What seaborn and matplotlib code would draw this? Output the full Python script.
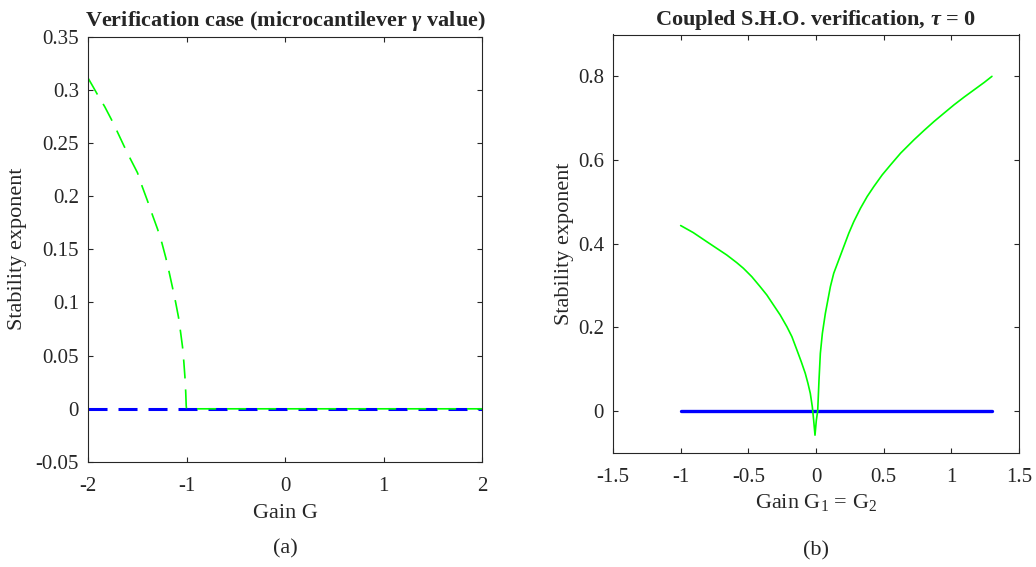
import numpy as np
import pandas as pd
import matplotlib
matplotlib.use("Agg")
import matplotlib.pyplot as plt
import seaborn as sns

# ---- data ----
# Panel (a): microcantilever verification
gain_a_green = [-2.0, -1.95, -1.905, -1.83, -1.7625, -1.70, -1.634, -1.57,
                -1.498, -1.45, -1.396, -1.345, -1.294, -1.25, -1.21, -1.175,
                -1.142, -1.11, -1.081, -1.06, -1.04, -1.027, -1.016, -1.008,
                -1.003, -1.0, 2.0]
stab_a_green = [0.311, 0.303, 0.2956, 0.284, 0.272, 0.260, 0.247, 0.235,
                0.222, 0.209, 0.1955, 0.182, 0.169, 0.156, 0.142, 0.128,
                0.114, 0.100, 0.086, 0.072, 0.058, 0.044, 0.030, 0.016,
                0.003, 0.0, 0.0]
gain_a_blue = [-2.0, 2.0]
stab_a_blue = [0.0, 0.0]

# Panel (b): coupled S.H.O. verification, tau = 0
gain_b_green = [-1.0, -0.9073, -0.8084, -0.7342, -0.6601, -0.5859, -0.5365,
                -0.4747, -0.4129, -0.3634, -0.3140, -0.2645, -0.2151, -0.1780,
                -0.1409, -0.1088, -0.0791, -0.0593, -0.0420, -0.0272, -0.0173,
                -0.0074, 0.0025, 0.0124, 0.0222, 0.0321, 0.0470, 0.0692,
                0.1063, 0.1310, 0.1681, 0.2052, 0.2423, 0.2794, 0.3288,
                0.3782, 0.4277, 0.4895, 0.5513, 0.6255, 0.7244, 0.7985,
                0.8727, 0.9468, 1.0210, 1.0952, 1.1693, 1.2435, 1.3]
stab_b_green = [0.4435, 0.4267, 0.4052, 0.3892, 0.3733, 0.3549, 0.3414,
                0.3214, 0.2975, 0.2776, 0.2536, 0.2297, 0.2018, 0.1779,
                0.1460, 0.1180, 0.0901, 0.0662, 0.0423, 0.0104, -0.0215,
                -0.0574, -0.0215, 0.0, 0.0742, 0.138, 0.1858, 0.2337,
                0.2975, 0.3294, 0.3613, 0.3932, 0.4251, 0.4530, 0.4849,
                0.5129, 0.5368, 0.5647, 0.5886, 0.6166, 0.6485, 0.6708,
                0.6923, 0.7123, 0.7322, 0.7506, 0.7681, 0.7856, 0.80]
gain_b_blue = [-1.0, 1.3]
stab_b_blue = [0.0, 0.0]

xticks_a = [-2, -1, 0, 1, 2]
yticks_a = [-0.05, 0, 0.05, 0.1, 0.15, 0.2, 0.25, 0.3, 0.35]
xticks_b = [-1.5, -1, -0.5, 0, 0.5, 1, 1.5]
yticks_b = [0, 0.2, 0.4, 0.6, 0.8]

# ---- style ----
sns.set_style("ticks")
plt.rcParams["font.family"] = ["Liberation Serif", "DejaVu Serif"]
plt.rcParams["mathtext.fontset"] = "custom"
plt.rcParams["mathtext.rm"] = "Liberation Serif"
plt.rcParams["mathtext.it"] = "Liberation Serif:italic"
plt.rcParams["mathtext.bf"] = "Liberation Serif:italic:bold"
plt.rcParams["axes.unicode_minus"] = False
plt.rcParams["lines.scale_dashes"] = False

AXC = "#262626"
GREEN = "#00ff00"
BLUE = "#0000ff"

fig = plt.figure(figsize=(10.36, 5.67), dpi=100)
W, H = 1036, 567
axA = fig.add_axes([88 / W, 1 - 462 / H, (482 - 88) / W, (462 - 36.5) / H])
axB = fig.add_axes([613 / W, 1 - 453 / H, (1019 - 613) / W, (453 - 34.5) / H])

dash = (0, (13.7, 7.9))

dfa_b = pd.DataFrame({"g": gain_a_blue, "s": stab_a_blue})
dfa_g = pd.DataFrame({"g": gain_a_green, "s": stab_a_green})
sns.lineplot(data=dfa_b, x="g", y="s", ax=axA, color=BLUE, lw=2.2,
             linestyle=dash, sort=False, estimator=None)
sns.lineplot(data=dfa_g, x="g", y="s", ax=axA, color=GREEN, lw=1.2,
             linestyle=dash, sort=False, estimator=None)

dfb_b = pd.DataFrame({"g": gain_b_blue, "s": stab_b_blue})
dfb_g = pd.DataFrame({"g": gain_b_green, "s": stab_b_green})
sns.lineplot(data=dfb_b, x="g", y="s", ax=axB, color=BLUE, lw=2.4,
             sort=False, estimator=None)
sns.lineplot(data=dfb_g, x="g", y="s", ax=axB, color=GREEN, lw=1.2,
             sort=False, estimator=None)

def fmt(v):
    return "%g" % v

for ax, xt, yt, xl, yl in [(axA, xticks_a, yticks_a, (-2, 2), (-0.05, 0.35)),
                           (axB, xticks_b, yticks_b, (-1.5, 1.5), (-0.1, 0.9))]:
    ax.set_xlim(*xl)
    ax.set_ylim(*yl)
    ax.set_xticks(xt)
    ax.set_xticklabels([fmt(v) for v in xt])
    ax.set_yticks(yt)
    ax.set_yticklabels([fmt(v) for v in yt])
    ax.tick_params(direction="in", top=True, right=True, length=3.5,
                   width=0.8, colors=AXC, labelsize=15)
    ax.tick_params(axis="x", pad=10.5)
    ax.tick_params(axis="y", pad=6.5)
    for sp in ax.spines.values():
        sp.set_visible(True)
        sp.set_color(AXC)
        sp.set_linewidth(0.8)
    ax.set_ylabel("Stability exponent", fontsize=16, color=AXC)

axA.set_xlabel("Gain G", fontsize=16, color=AXC, labelpad=6)
axB.set_xlabel(r"Gain G$_1$ = G$_2$", fontsize=16, color=AXC, labelpad=4)
axA.yaxis.set_label_coords(-0.156, 0.5)
axB.yaxis.set_label_coords(-0.096, 0.5)

axA.set_title(r"Verification case (microcantilever $\mathbf{\gamma}$ value)",
              fontsize=16, fontweight="bold", pad=7.5)
axB.set_title(r"Coupled S.H.O. verification, $\mathbf{\tau}$ = 0",
              fontsize=16, fontweight="bold", pad=6.5)

fig.text(285 / W, 1 - 549 / H, "(a)", ha="center", va="center", fontsize=16, color=AXC)
fig.text(816 / W, 1 - 551 / H, "(b)", ha="center", va="center", fontsize=16, color=AXC)

fig.savefig("out.png", dpi=100)
